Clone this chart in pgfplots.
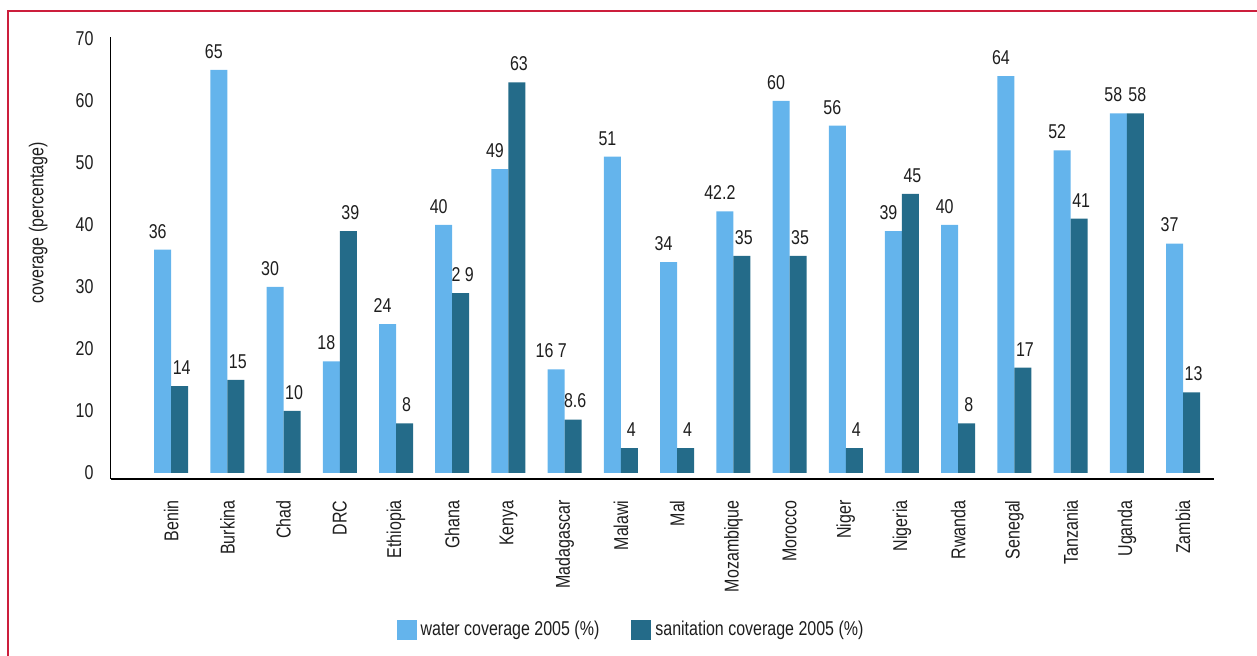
\documentclass[border=0pt]{standalone}
\usepackage{fontspec}
\setmainfont{Liberation Sans}[FakeStretch=0.8]
\usepackage{pgfplots}
\usepackage{pgfplotstable}
\pgfplotsset{compat=1.18}

\definecolor{water}{RGB}{100,180,236}
\definecolor{sani}{RGB}{36,107,137}
\definecolor{framecol}{RGB}{204,30,60}
\definecolor{txt}{RGB}{30,30,30}

\newcommand{\chartfont}{\fontsize{10}{12}\selectfont}

\pgfplotsset{
  sqleg/.style={legend image code/.code={\fill[##1] (0pt,-5pt) rectangle (10pt,5pt);}},
}

% coverage 2005 by country: value, printed label
\pgfplotstableread[col sep=comma]{
x,country,water,wlab,sanit,slab
0,Benin,36,36,14,14
1,Burkina,65,65,15,15
2,Chad,30,30,10,10
3,DRC,18,18,39,39
4,Ethiopia,24,24,8,8
5,Ghana,40,40,29,2 9
6,Kenya,49,49,63,63
7,Madagascar,16.7,16 7,8.6,8.6
8,Malawi,51,51,4,4
9,Mal,34,34,4,4
10,Mozambique,42.2,42.2,35,35
11,Morocco,60,60,35,35
12,Niger,56,56,4,4
13,Nigeria,39,39,45,45
14,Rwanda,40,40,8,8
15,Senegal,64,64,17,17
16,Tanzania,52,52,41,41
17,Uganda,58,58,58,58
18,Zambia,37,37,13,13
}\data

\begin{document}
\begin{tikzpicture}
\path[use as bounding box] (-55.5pt,-88.5pt) rectangle (573pt,239.5pt);
\draw[framecol, line width=0.8pt] (-51.5pt,-95pt) -- (-51.5pt,234pt) -- (580pt,234pt);
\begin{axis}[
  at={(0,0)}, anchor=south west,
  scale only axis,
  width=551.5pt, height=221pt,
  ybar=0pt, bar width=8.5pt,
  xmin=-1.07, xmax=18.55,
  ymin=-0.97, ymax=70.3,
  axis x line=bottom, axis y line=left,
  axis line style={-},
  x axis line style={line width=0.8pt},
  y axis line style={line width=0.5pt},
  xtick=data,
  xticklabels from table={\data}{country},
  ytick={0,10,...,70},
  major tick length=0pt,
  /pgf/number format/assume math mode=true,
  tick label style={font=\chartfont, text=txt},
  xticklabel style={rotate=90, anchor=east},
  xticklabel shift=7.2pt,
  yticklabel shift=5.2pt,
  ylabel={coverage (percentage)},
  ylabel style={at={(axis description cs:-0.066,0.58)}, anchor=center, font=\chartfont, text=txt},
  nodes near coords,
  point meta=explicit symbolic,
  every node near coord/.append style={font=\chartfont, text=txt, yshift=2.2pt},
  legend columns=2,
  legend style={draw=none, fill=none, at={(axis description cs:0.4724,-0.3416)}, anchor=center,
    font=\chartfont, text=txt,
    /tikz/every even column/.append style={column sep=14pt}},
]
\addplot[fill=water, draw=none, sqleg,
  every node near coord/.append style={xshift=-2.5pt}]
  table[x=x, y=water, meta=wlab] {\data};
\addlegendentry{water coverage 2005 (\%)}
\addplot[fill=sani, draw=none, sqleg,
  every node near coord/.append style={xshift=1pt}]
  table[x=x, y=sanit, meta=slab] {\data};
\addlegendentry{sanitation coverage 2005 (\%)}
\end{axis}
\end{tikzpicture}
\end{document}
